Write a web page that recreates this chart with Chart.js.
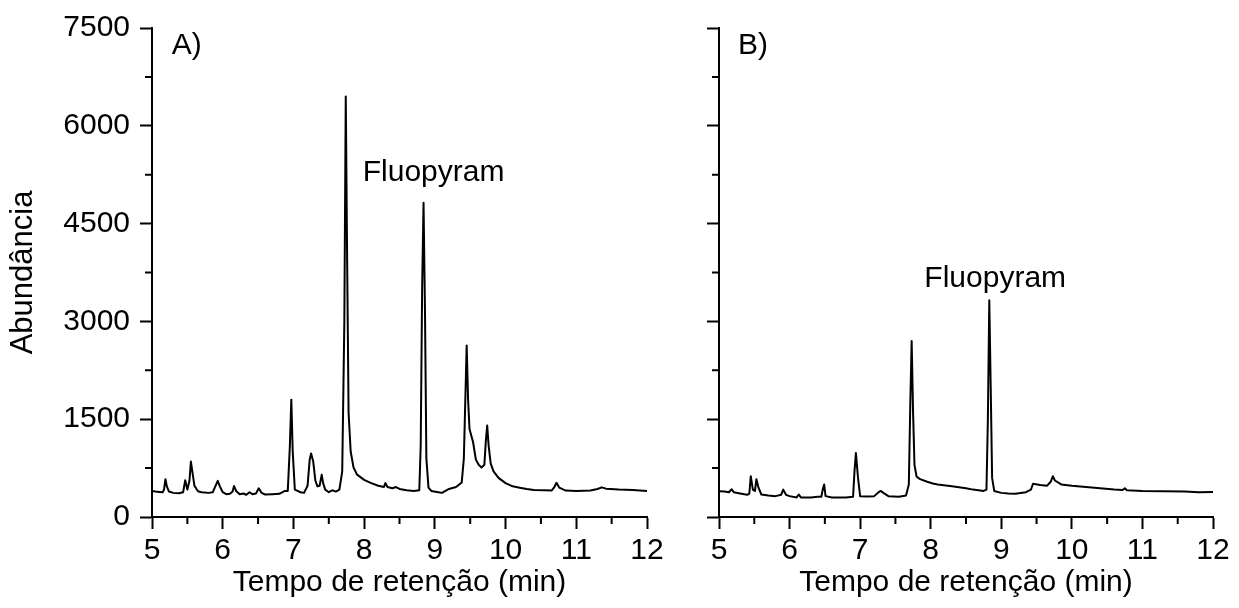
<!DOCTYPE html>
<html>
<head>
<meta charset="utf-8">
<title>Cromatogramas A e B</title>
<script src="https://cdn.jsdelivr.net/npm/chart.js@4.4.1/dist/chart.umd.min.js"></script>
<style>
  html, body { margin: 0; padding: 0; background: #fff; }
  #wrap { position: relative; width: 1239px; height: 608px; background: #fff; }
  canvas { position: absolute; top: 0; }
  #chartA { left: 0; }
  #chartB { left: 680px; }
</style>
</head>
<body>
<div id="wrap">
  <canvas id="chartA" width="680" height="608"></canvas>
  <canvas id="chartB" width="559" height="608"></canvas>
</div>
<script>
// Axis ticks
const xMajor = [5, 6, 7, 8, 9, 10, 11, 12];
const xMinor = [5.5, 6.5, 7.5, 8.5, 9.5, 10.5, 11.5];
const yMajor = [0, 1500, 3000, 4500, 6000, 7500];
const yMinor = [750, 2250, 3750, 5250, 6750];

// Chromatogram A (retention time in min, abundance)
const timeA = [
  5.00, 5.05, 5.10, 5.15, 5.17, 5.19, 5.21, 5.24, 5.30, 5.38, 5.44, 5.47, 5.50, 5.53, 5.55, 5.57, 5.60, 5.65, 5.70, 5.80,
  5.86, 5.90, 5.93, 5.96, 6.00, 6.05, 6.10, 6.14, 6.16, 6.19, 6.24, 6.30, 6.33, 6.38, 6.42, 6.47, 6.51, 6.55, 6.60, 6.70,
  6.80, 6.88, 6.92, 6.95, 6.97, 6.99, 7.02, 7.10, 7.15, 7.20, 7.23, 7.25, 7.28, 7.31, 7.34, 7.37, 7.40, 7.42, 7.45, 7.50,
  7.55, 7.60, 7.65, 7.69, 7.72, 7.74, 7.76, 7.78, 7.81, 7.85, 7.90, 8.00, 8.10, 8.20, 8.28, 8.30, 8.33, 8.40, 8.45, 8.50,
  8.60, 8.70, 8.78, 8.80, 8.82, 8.84, 8.86, 8.88, 8.91, 8.95, 9.05, 9.10, 9.20, 9.30, 9.38, 9.41, 9.44, 9.45, 9.47, 9.49,
  9.51, 9.54, 9.58, 9.62, 9.66, 9.70, 9.72, 9.74, 9.76, 9.79, 9.83, 9.90, 10.00, 10.10, 10.20, 10.30, 10.40, 10.55, 10.65, 10.69,
  10.72, 10.76, 10.85, 11.00, 11.20, 11.30, 11.36, 11.42, 11.60, 11.80, 12.00
];
const abundA = [
  400, 390, 385, 380, 420, 580, 470, 390, 370, 365, 380, 565, 420, 560, 850, 700, 480, 395, 380, 370,
  380, 480, 555, 470, 380, 350, 355, 390, 475, 400, 350, 360, 340, 380, 350, 360, 440, 370, 345, 350,
  355, 400, 400, 1100, 1800, 1000, 420, 380, 370, 480, 880, 975, 850, 560, 470, 480, 650, 520, 420, 380,
  410, 390, 420, 700, 3000, 6450, 3900, 1600, 1000, 760, 650, 570, 520, 480, 460, 520, 460, 440, 460, 430,
  410, 400, 410, 1100, 3500, 4820, 3200, 900, 450, 400, 380, 370, 430, 460, 530, 900, 2200, 2630, 1800, 1350,
  1270, 1150, 880, 800, 760, 800, 1150, 1405, 1100, 820, 700, 600, 520, 470, 450, 430, 415, 410, 405, 460,
  525, 450, 405, 400, 405, 430, 455, 435, 420, 415, 400
];

// Chromatogram B
const timeB = [
  5.00, 5.08, 5.14, 5.18, 5.21, 5.30, 5.40, 5.43, 5.45, 5.48, 5.51, 5.53, 5.56, 5.60, 5.70, 5.80, 5.88, 5.91, 5.95, 6.00,
  6.10, 6.13, 6.16, 6.30, 6.40, 6.45, 6.47, 6.49, 6.51, 6.60, 6.80, 6.90, 6.92, 6.94, 6.97, 7.00, 7.10, 7.20, 7.25, 7.29,
  7.33, 7.40, 7.55, 7.65, 7.69, 7.71, 7.73, 7.75, 7.77, 7.80, 7.85, 7.95, 8.03, 8.10, 8.30, 8.50, 8.60, 8.75, 8.79, 8.81,
  8.83, 8.85, 8.87, 8.90, 9.00, 9.10, 9.20, 9.35, 9.42, 9.45, 9.55, 9.65, 9.70, 9.73, 9.76, 9.85, 10.00, 10.20, 10.40, 10.60,
  10.72, 10.75, 10.78, 11.00, 11.30, 11.60, 11.80, 12.00
];
const abundB = [
  396, 390, 380, 425, 380, 360, 340, 360, 625, 420, 400, 580, 450, 345, 330, 320, 340, 420, 340, 320,
  300, 345, 300, 300, 310, 310, 420, 500, 320, 300, 300, 310, 700, 980, 600, 320, 315, 320, 370, 400,
  370, 320, 310, 330, 500, 1700, 2700, 1600, 800, 620, 580, 540, 515, 500, 470, 440, 420, 400, 420, 1500,
  3325, 2000, 600, 400, 370, 360, 355, 380, 420, 510, 490, 480, 540, 625, 560, 500, 480, 460, 440, 420,
  415, 440, 410, 400, 395, 390, 380, 385
];

const FONT = "'Liberation Sans', Arial, sans-serif";
Chart.defaults.font.family = FONT;
Chart.defaults.color = '#000';

function toPoints(xs, ys) {
  return xs.map((x, i) => ({ x: x, y: ys[i] }));
}

// minor ticks drawn on the library's scales (Chart.js has no minor ticks)
const minorTicks = {
  id: 'minorTicks',
  afterDraw(chart) {
    const ctx = chart.ctx;
    const xs = chart.scales.x, ys = chart.scales.y;
    ctx.save();
    ctx.strokeStyle = '#000';
    ctx.lineWidth = 2;
    ctx.beginPath();
    xMinor.forEach(v => {
      const px = xs.getPixelForValue(v);
      ctx.moveTo(px, xs.top);
      ctx.lineTo(px, xs.top + 7);
    });
    yMinor.forEach(v => {
      const py = ys.getPixelForValue(v);
      ctx.moveTo(ys.right, py);
      ctx.lineTo(ys.right - 7, py);
    });
    ctx.stroke();
    ctx.restore();
  }
};

const textLabels = {
  id: 'textLabels',
  afterDatasetsDraw(chart, args, opts) {
    const ctx = chart.ctx;
    const xs = chart.scales.x, ys = chart.scales.y;
    ctx.save();
    ctx.fillStyle = '#000';
    ctx.font = '30px ' + FONT;
    ctx.textAlign = 'left';
    ctx.textBaseline = 'alphabetic';
    (opts.items || []).forEach(it => {
      ctx.fillText(it.text, xs.getPixelForValue(it.x), ys.getPixelForValue(it.y));
    });
    ctx.restore();
  }
};

function makeChart(id, xs, ys, cfg) {
  return new Chart(document.getElementById(id), {
    type: 'line',
    data: {
      datasets: [{
        data: toPoints(xs, ys),
        borderColor: '#000',
        borderWidth: 2,
        pointRadius: 0,
        tension: 0,
        fill: false,
        borderJoinStyle: 'round'
      }]
    },
    options: {
      responsive: false,
      animation: false,
      devicePixelRatio: 1,
      layout: { padding: { left: 0, right: cfg.padRight, top: 25, bottom: 0 } },
      plugins: {
        legend: { display: false },
        tooltip: { enabled: false },
        textLabels: { items: cfg.labels }
      },
      scales: {
        x: {
          type: 'linear',
          min: 5, max: 12,
          afterBuildTicks: s => { s.ticks = xMajor.map(v => ({ value: v })); },
          afterFit: s => { s.height = 91; },
          grid: { display: true, drawOnChartArea: false, drawTicks: true, tickLength: 12, tickWidth: 2, tickColor: '#000' },
          border: { display: true, color: '#000', width: 2 },
          ticks: { font: { size: 30 }, padding: 4, maxRotation: 0, autoSkip: false },
          title: { display: true, text: 'Tempo de retenção (min)', font: { size: 30 }, padding: { top: 0, bottom: 7 } }
        },
        y: {
          min: 0, max: 7500,
          afterBuildTicks: s => { s.ticks = yMajor.map(v => ({ value: v })); },
          afterFit: s => { s.width = cfg.yWidth; },
          grid: { display: true, drawOnChartArea: false, drawTicks: true, tickLength: 12, tickWidth: 2, tickColor: '#000' },
          border: { display: true, color: '#000', width: 2 },
          ticks: { font: { size: 30 }, padding: 10, callback: v => cfg.yLabels ? String(v) : '' },
          title: { display: cfg.yLabels, text: 'Abundância', font: { size: 31 }, padding: { top: 5, bottom: 0 } }
        }
      }
    },
    plugins: [minorTicks, textLabels]
  });
}

makeChart('chartA', timeA, abundA, {
  padRight: 33, yWidth: 152, yLabels: true,
  labels: [{ text: 'A)', x: 5.28, y: 7100 }, { text: 'Fluopyram', x: 7.98, y: 5160 }]
});
makeChart('chartB', timeB, abundB, {
  padRight: 26, yWidth: 39, yLabels: false,
  labels: [{ text: 'B)', x: 5.27, y: 7100 }, { text: 'Fluopyram', x: 7.91, y: 3530 }]
});
</script>
</body>
</html>
